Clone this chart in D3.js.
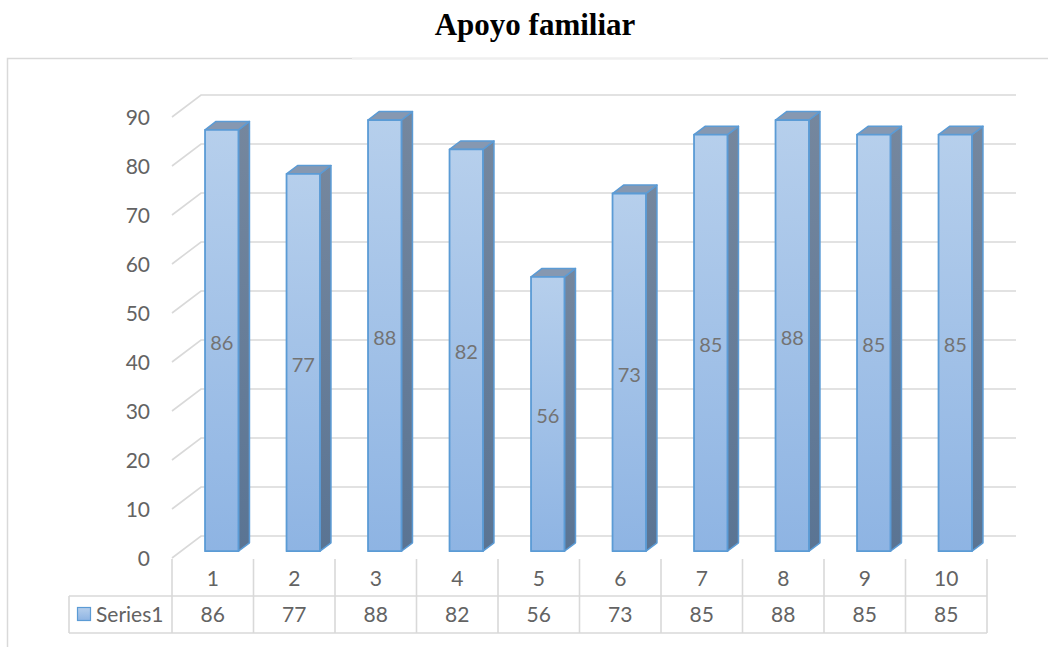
<!DOCTYPE html>
<html>
<head>
<meta charset="utf-8">
<script src="https://cdn.jsdelivr.net/npm/d3@7"></script>
<style>
  body { margin: 0; background: #fff; }
  text { font-family: Lato, "Open Sans", sans-serif; fill: #636363; }
  .title { font-family: "Liberation Serif", "Times New Roman", serif; font-weight: bold; fill: #000; }
</style>
</head>
<body>
<div id="chart"></div>
<script>
var categories = ['1', '2', '3', '4', '5', '6', '7', '8', '9', '10'];
var series1 = [86, 77, 88, 82, 56, 73, 85, 88, 85, 85];
var yTicks = [0, 10, 20, 30, 40, 50, 60, 70, 80, 90];
var seriesName = 'Series1';
var chartTitle = 'Apoyo familiar';

var W = 1048, H = 647;
var svg = d3.select('#chart').append('svg')
    .attr('width', W)
    .attr('height', H);

// depth offset of the 3d box (full depth)
var depth = {x: 29, y: -22};

var x = d3.scaleBand().domain(categories).range([172, 987]).padding(0);
var y = d3.scaleLinear().domain([0, 90]).range([558, 117]);

function proj(px, v, z) {
    return [px + depth.x * z, y(v) + depth.y * z];
}

// gradients
var defs = svg.append('defs');
var gFront = defs.append('linearGradient').attr('id', 'gFront')
    .attr('x1', 0).attr('y1', 0).attr('x2', 0).attr('y2', 1);
gFront.append('stop').attr('offset', '0%').attr('stop-color', '#b6cfec');
gFront.append('stop').attr('offset', '100%').attr('stop-color', '#8eb4e3');
var gSide = defs.append('linearGradient').attr('id', 'gSide')
    .attr('x1', 0).attr('y1', 0).attr('x2', 0).attr('y2', 1);
gSide.append('stop').attr('offset', '0%').attr('stop-color', '#75879e');
gSide.append('stop').attr('offset', '100%').attr('stop-color', '#5a7493');

// chart frame
svg.append('rect')
    .attr('x', 7.5).attr('y', 58.5)
    .attr('width', 1060).attr('height', 600)
    .attr('fill', 'none')
    .attr('stroke', '#d9d9d9')
    .attr('stroke-width', 1.5);
svg.append('line')
    .attr('x1', 352).attr('x2', 720).attr('y1', 58.5).attr('y2', 58.5)
    .attr('stroke', '#efefef').attr('stroke-width', 2);

// title
svg.append('text')
    .attr('class', 'title')
    .attr('x', 535).attr('y', 35)
    .attr('text-anchor', 'middle')
    .style('font-size', '31px')
    .text(chartTitle);

// gridlines: back wall + left diagonal
var x0 = x.range()[0];
var backRight = x.range()[1] + depth.x;
var grid = svg.append('g').attr('stroke', '#d9d9d9').attr('stroke-width', 1.6).attr('fill', 'none');
yTicks.forEach(function(t) {
    var a = proj(x0, t, 0), b = proj(x0, t, 1);
    grid.append('path')
        .attr('d', 'M' + a[0] + ',' + a[1] + 'L' + b[0] + ',' + b[1] + 'L' + backRight + ',' + b[1]);
});

// y labels
svg.append('g').selectAll('text')
    .data(yTicks)
    .enter().append('text')
    .attr('x', 150)
    .attr('y', function(d) { return y(d); })
    .attr('dy', '0.36em')
    .attr('text-anchor', 'end')
    .style('font-size', '21px')
    .text(function(d) { return d; });

// bars
var bw = x.bandwidth() * 0.41;
var zf = 0.31, zb = 0.69;
var bars = svg.append('g').selectAll('g')
    .data(series1)
    .enter().append('g');

bars.each(function(v, i) {
    var g = d3.select(this);
    var cx = x(categories[i]) + x.bandwidth() / 2;
    var l = cx - bw / 2, r = cx + bw / 2;
    var fl0 = proj(l, 0, zf), fr0 = proj(r, 0, zf), fl1 = proj(l, v, zf), fr1 = proj(r, v, zf);
    var br0 = proj(r, 0, zb), br1 = proj(r, v, zb), bl1 = proj(l, v, zb);
    var pts = function(a) { return a.map(function(p) { return p.join(','); }).join(' '); };
    g.append('polygon')
        .attr('points', pts([fr0, br0, br1, fr1]))
        .attr('fill', 'url(#gSide)')
        .attr('stroke', '#5b9bd5').attr('stroke-width', 1.5).attr('stroke-linejoin', 'round');
    g.append('polygon')
        .attr('points', pts([fl1, fr1, br1, bl1]))
        .attr('fill', '#8698b1')
        .attr('stroke', '#5b9bd5').attr('stroke-width', 1.5).attr('stroke-linejoin', 'round');
    g.append('polygon')
        .attr('points', pts([fl0, fr0, fr1, fl1]))
        .attr('fill', 'url(#gFront)')
        .attr('stroke', '#5b9bd5').attr('stroke-width', 1.8).attr('stroke-linejoin', 'round');
    g.append('text')
        .attr('x', (fl0[0] + fr0[0]) / 2)
        .attr('y', (fl0[1] + fl1[1]) / 2 + 2)
        .attr('dy', '0.36em')
        .attr('text-anchor', 'middle')
        .style('font-size', '20px')
        .style('fill', '#737373')
        .text(v);
});

// data table
var rowTop = 559, rowMid = 596, rowBot = 633, labelLeft = 69;
var table = svg.append('g').attr('stroke', '#d9d9d9').attr('stroke-width', 1.6);
x.domain().concat(['end']).forEach(function(c, i) {
    var px = i < categories.length ? x(c) : x.range()[1];
    table.append('line')
        .attr('x1', px).attr('x2', px)
        .attr('y1', rowTop).attr('y2', rowBot);
});
table.append('line').attr('x1', labelLeft).attr('x2', x.range()[1]).attr('y1', rowMid).attr('y2', rowMid);
table.append('line').attr('x1', labelLeft).attr('x2', x.range()[1]).attr('y1', rowBot).attr('y2', rowBot);
table.append('line').attr('x1', labelLeft).attr('x2', labelLeft).attr('y1', rowMid).attr('y2', rowBot);

svg.append('g').selectAll('text')
    .data(categories)
    .enter().append('text')
    .attr('x', function(d) { return x(d) + x.bandwidth() / 2; })
    .attr('y', (rowTop + rowMid) / 2 + 1)
    .attr('dy', '0.36em')
    .attr('text-anchor', 'middle')
    .style('font-size', '21px')
    .text(function(d) { return d; });

svg.append('g').selectAll('text')
    .data(series1)
    .enter().append('text')
    .attr('x', function(d, i) { return x(categories[i]) + x.bandwidth() / 2; })
    .attr('y', (rowMid + rowBot) / 2)
    .attr('dy', '0.36em')
    .attr('text-anchor', 'middle')
    .style('font-size', '21px')
    .text(function(d) { return d; });

// legend key
svg.append('rect')
    .attr('x', 77.5).attr('y', 607.5)
    .attr('width', 13).attr('height', 13)
    .attr('fill', 'url(#gFront)')
    .attr('stroke', '#5b9bd5').attr('stroke-width', 1.2);
svg.append('text')
    .attr('x', 96)
    .attr('y', (rowMid + rowBot) / 2)
    .attr('dy', '0.36em')
    .style('font-size', '21px')
    .text(seriesName);
</script>
</body>
</html>
